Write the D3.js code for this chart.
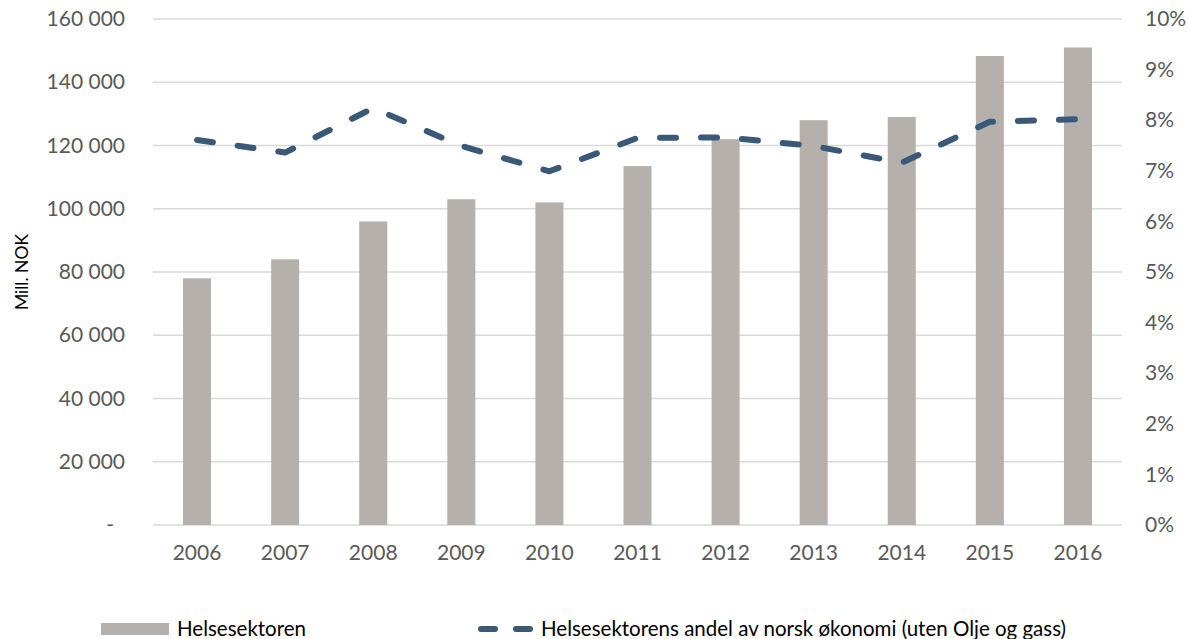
<!DOCTYPE html>
<html><head><meta charset="utf-8">
<script src="https://cdn.jsdelivr.net/npm/d3@7"></script>
<style>body{margin:0;background:#fff;} svg{display:block;font-family:Lato, "Open Sans", sans-serif;}</style>
</head><body>
<svg id="chart" width="1188" height="639"></svg>
<script>
const years = ["2006","2007","2008","2009","2010","2011","2012","2013","2014","2015","2016"];
const helse = [78000, 84000, 96000, 103000, 102000, 113500, 122000, 128000, 129000, 148300, 151000];
const andel = [7.61, 7.36, 8.24, 7.49, 6.99, 7.65, 7.66, 7.49, 7.16, 7.97, 8.02];
const leftTicks = [0, 20000, 40000, 60000, 80000, 100000, 120000, 140000, 160000];
const rightTicks = [0,1,2,3,4,5,6,7,8,9,10];
const legendLabels = ["Helsesektoren", "Helsesektorens andel av norsk økonomi (uten Olje og gass)"];

const svg = d3.select("#chart");
const m = {left:153, right:1122, top:19, bottom:525};
const x = d3.scaleBand().domain(years).range([m.left, m.right]).paddingInner(0.682).paddingOuter(0.341);
const yL = d3.scaleLinear().domain([0,160000]).range([m.bottom, m.top]);
const yR = d3.scaleLinear().domain([0,10]).range([m.bottom, m.top]);
const fmt = v => v === 0 ? "-" : d3.format(",")(v).replace(/,/g, " ");

// gridlines
svg.append("g").selectAll("line").data(leftTicks).join("line")
  .attr("x1", m.left).attr("x2", m.right)
  .attr("y1", d => yL(d)).attr("y2", d => yL(d))
  .attr("stroke", "#d9d9d9").attr("stroke-width", 1.3);

// left axis
const gl = svg.append("g").attr("transform", `translate(${m.left},0)`)
  .call(d3.axisLeft(yL).tickValues(leftTicks).tickFormat(fmt).tickSize(0).tickPadding(28));
gl.select(".domain").remove();
gl.selectAll("text").attr("font-size", 21).attr("fill", "#595959").attr("font-family", "Lato")
  .attr("dx", d => d === 0 ? -11 : 0);

// right axis
const gr = svg.append("g").attr("transform", `translate(${m.right},0)`)
  .call(d3.axisRight(yR).tickValues(rightTicks).tickFormat(d => d + "%").tickSize(0).tickPadding(23));
gr.select(".domain").remove();
gr.selectAll("text").attr("font-size", 21).attr("fill", "#595959").attr("font-family", "Lato");

// bottom axis
const gb = svg.append("g").attr("transform", `translate(0,${m.bottom})`)
  .call(d3.axisBottom(x).tickSize(0).tickPadding(20));
gb.select(".domain").remove();
gb.selectAll("text").attr("font-size", 21).attr("fill", "#595959").attr("font-family", "Lato");

// bars
svg.append("g").selectAll("rect").data(helse).join("rect")
  .attr("x", (d,i) => x(years[i])).attr("width", x.bandwidth())
  .attr("y", d => yL(d)).attr("height", d => yL(0) - yL(d))
  .attr("fill", "#b5b0ab");

// line
const line = d3.line().x((d,i) => x(years[i]) + x.bandwidth()/2).y(d => yR(d));
svg.append("path").datum(andel).attr("d", line)
  .attr("fill", "none").attr("stroke", "#3a5878").attr("stroke-width", 6)
  .attr("stroke-linecap", "round").attr("stroke-linejoin", "round")
  .attr("stroke-dasharray", "16,25");

// y axis title
svg.append("text").attr("transform", "translate(28,272) rotate(-90)")
  .attr("text-anchor", "middle").attr("font-size", 17.5).attr("fill", "#000")
  .attr("font-family", "Lato").text("Mill. NOK");

// legend
const lg = svg.append("g");
lg.append("rect").attr("x", 101).attr("y", 623).attr("width", 68).attr("height", 12).attr("fill", "#b5b0ab");
lg.append("text").attr("x", 177).attr("y", 629).attr("dy", "0.35em").attr("font-size", 20.5)
  .attr("fill", "#000").text(legendLabels[0]);
lg.append("line").attr("x1", 481).attr("x2", 530).attr("y1", 629).attr("y2", 629)
  .attr("stroke", "#3a5878").attr("stroke-width", 6).attr("stroke-linecap", "round")
  .attr("stroke-dasharray", "14,21");
lg.append("text").attr("x", 541).attr("y", 629).attr("dy", "0.35em").attr("font-size", 20.5)
  .attr("fill", "#000").text(legendLabels[1]);
</script>
</body></html>
